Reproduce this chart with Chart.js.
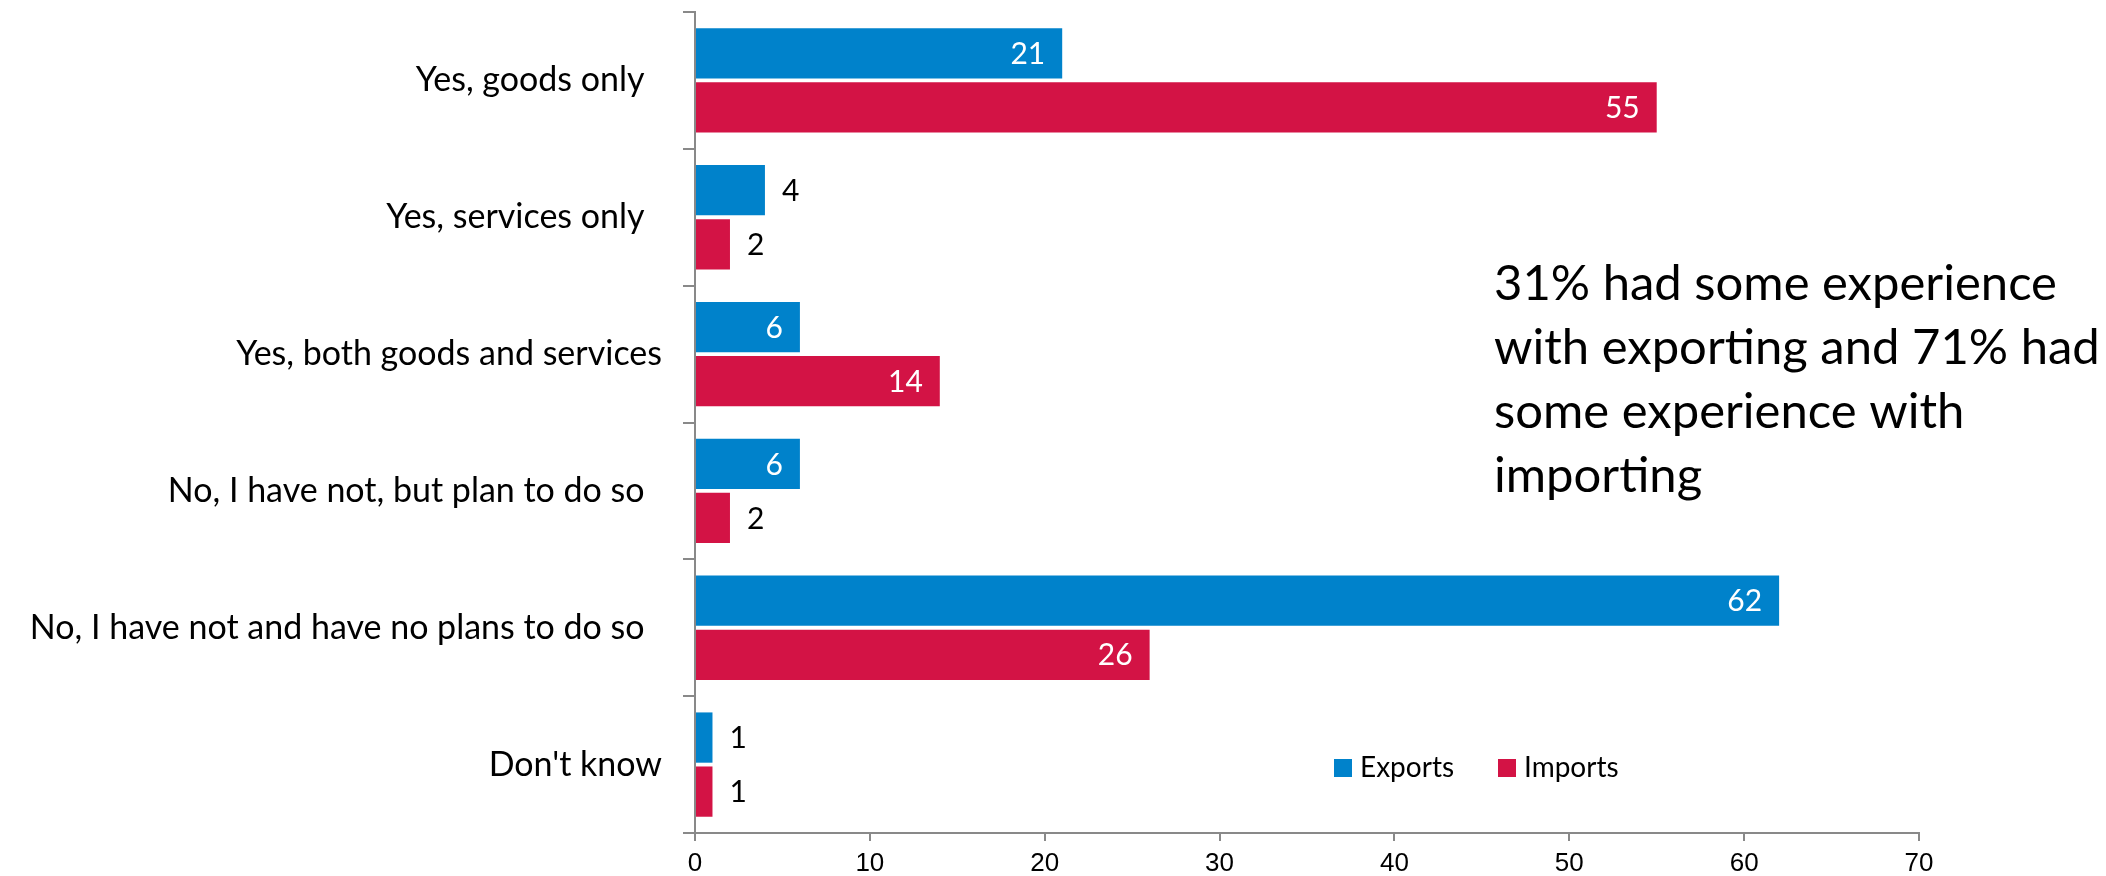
<!DOCTYPE html>
<html lang="en">
<head>
  <meta charset="UTF-8">
  <title>Exporting and importing experience</title>
  <style>
    html, body { margin: 0; padding: 0; background: #fff; }
    canvas { display: block; }
  </style>
  <script src="https://cdn.jsdelivr.net/npm/chart.js"></script>
</head>
<body>
<canvas id="chartExperience" width="2106" height="876"></canvas>
<script>
  // answers (two trailing spaces kept where the survey text had them)
  const categories = [
    'Yes, goods only  ',
    'Yes, services only  ',
    'Yes, both goods and services',
    'No, I have not, but plan to do so  ',
    'No, I have not and have no plans to do so  ',
    "Don't know"
  ];
  const exportsValues = [21, 4, 6, 6, 62, 1];
  const importsValues = [55, 2, 14, 2, 26, 1];
  const seriesNames = ['Exports', 'Imports'];
  const xTicks = [0, 10, 20, 30, 40, 50, 60, 70];
  const noteLines = [
    '31% had some experience',
    'with exporting and 71% had',
    'some experience with',
    'importing'
  ];

  const BLUE = '#0082CB';
  const RED = '#D31345';
  const AXIS = '#898989';
  const FONT = 'Lato';

  // value labels: inside the bar end (white) for long bars, just after it (black) for short ones
  const valueLabels = {
    id: 'valueLabels',
    afterDatasetsDraw(chart) {
      const ctx = chart.ctx;
      ctx.save();
      ctx.font = `30px ${FONT}`;
      ctx.textBaseline = 'middle';
      chart.data.datasets.forEach((ds, di) => {
        chart.getDatasetMeta(di).data.forEach((bar, i) => {
          const v = ds.data[i];
          if (v >= 6) {
            ctx.fillStyle = '#fff';
            ctx.textAlign = 'right';
            ctx.fillText(v, bar.x - 17, bar.y + 1);
          } else {
            ctx.fillStyle = '#000';
            ctx.textAlign = 'left';
            ctx.fillText(v, bar.x + 17, bar.y + 1);
          }
        });
      });
      ctx.restore();
    }
  };

  // legend box inside the plot and the side note
  const extras = {
    id: 'extras',
    afterDraw(chart) {
      const ctx = chart.ctx;
      ctx.save();
      ctx.font = `28px ${FONT}`;
      ctx.textBaseline = 'middle';
      ctx.textAlign = 'left';
      const legendX = [1334, 1498];
      chart.data.datasets.forEach((ds, di) => {
        ctx.fillStyle = ds.backgroundColor;
        ctx.fillRect(legendX[di], 759, 18, 18);
        ctx.fillStyle = '#000';
        ctx.fillText(ds.label, legendX[di] + 26, 768);
      });

      ctx.font = `49px ${FONT}`;
      ctx.textBaseline = 'alphabetic';
      noteLines.forEach((line, i) => {
        ctx.fillText(line, 1494, 300 + i * 64);
      });
      ctx.restore();
    }
  };

  const ctx = document.getElementById('chartExperience').getContext('2d');

  const chart = new Chart(ctx, {
    type: 'bar',
    data: {
      labels: categories,
      datasets: [
        { label: seriesNames[0], data: exportsValues, backgroundColor: BLUE },
        { label: seriesNames[1], data: importsValues, backgroundColor: RED }
      ]
    },
    options: {
      indexAxis: 'y',
      responsive: false,
      animation: false,
      categoryPercentage: 0.79,
      barPercentage: 0.93,
      layout: { padding: { top: 12, right: 187, left: 0, bottom: 0 } },
      plugins: {
        legend: { display: false },
        tooltip: { enabled: false }
      },
      scales: {
        x: {
          min: 0,
          max: 70,
          afterBuildTicks(scale) {
            scale.ticks = xTicks.map(v => ({ value: v }));
          },
          afterFit(scale) {
            scale.height = 43;
            scale.paddingLeft = 0;
            scale.paddingRight = 0;
          },
          grid: { drawOnChartArea: false, tickLength: 8, color: AXIS, lineWidth: 2 },
          border: { color: AXIS, width: 2 },
          ticks: {
            color: '#000',
            padding: 7,
            font: { family: 'Liberation Sans', size: 26 }
          }
        },
        y: {
          afterFit(scale) {
            scale.width = 695;
            scale.paddingTop = 0;
            scale.paddingBottom = 0;
          },
          grid: { drawOnChartArea: false, tickLength: 12, color: AXIS, lineWidth: 2 },
          border: { color: AXIS, width: 2 },
          ticks: {
            color: '#000',
            padding: 21,
            font: { family: FONT, size: 34 }
          }
        }
      }
    },
    plugins: [valueLabels, extras]
  });
</script>
</body>
</html>
